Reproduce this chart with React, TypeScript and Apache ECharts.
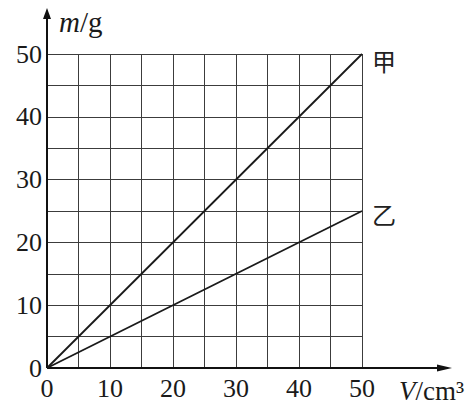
import React, { useEffect, useRef } from "react";
import * as echarts from "echarts";

const volumes = [0, 50];
const massJia = [0, 50];
const massYi = [0, 25];
const seriesNames = ["甲", "乙"];
const axisMin = 0;
const axisMax = 50;
const gridStep = 5;
const labelStep = 10;

const SERIF = "Liberation Serif, Times New Roman, serif";
const CJK = "Noto Sans CJK SC, sans-serif";

export default function App() {
  const ref = useRef<HTMLDivElement>(null);

  useEffect(() => {
    if (!ref.current) return;
    const chart = echarts.init(ref.current, null, { renderer: "svg" });
    const fmt = (v: number) => (v % labelStep === 0 ? String(v) : "");
    const splitLine = { show: true, lineStyle: { color: "#3c3c3c", width: 1 } };
    const endLabel = (name: string, dy: number) => ({
      show: true,
      formatter: () => name,
      distance: 10,
      offset: [0, dy],
      fontFamily: CJK,
      fontSize: 24,
      color: "#222",
    });
    chart.setOption({
      animation: false,
      backgroundColor: "#fff",
      grid: { left: 47, top: 54, width: 315, height: 314 },
      xAxis: {
        type: "value",
        min: axisMin,
        max: axisMax,
        interval: gridStep,
        axisLine: { show: false },
        axisTick: { show: false },
        splitLine,
        axisLabel: { formatter: fmt, fontFamily: SERIF, fontSize: 26, color: "#1a1a1a", margin: 7 },
      },
      yAxis: {
        type: "value",
        min: axisMin,
        max: axisMax,
        interval: gridStep,
        axisLine: { show: false },
        axisTick: { show: false },
        splitLine,
        axisLabel: { formatter: fmt, fontFamily: SERIF, fontSize: 26, color: "#1a1a1a", margin: 5, padding: [6, 0, 0, 0] },
      },
      series: [
        {
          type: "line",
          name: seriesNames[0],
          data: volumes.map((v, i) => [v, massJia[i]]),
          symbol: "none",
          lineStyle: { color: "#1a1a1a", width: 1.8 },
          endLabel: endLabel(seriesNames[0], 6),
        },
        {
          type: "line",
          name: seriesNames[1],
          data: volumes.map((v, i) => [v, massYi[i]]),
          symbol: "none",
          lineStyle: { color: "#1a1a1a", width: 1.8 },
          endLabel: endLabel(seriesNames[1], 2),
        },
      ],
    });

    const o = chart.convertToPixel({ gridIndex: 0 }, [axisMin, axisMin]) as number[];
    const xEnd = 452;
    const yEnd = 8;
    chart.setOption({
      graphic: [
        { type: "line", shape: { x1: o[0], y1: o[1], x2: xEnd - 8, y2: o[1] }, style: { stroke: "#111", lineWidth: 2 } },
        { type: "line", shape: { x1: o[0], y1: o[1], x2: o[0], y2: yEnd + 8 }, style: { stroke: "#111", lineWidth: 2 } },
        { type: "polygon", shape: { points: [[xEnd, o[1]], [xEnd - 15, o[1] - 3.5], [xEnd - 15, o[1] + 3.5]] }, style: { fill: "#111" } },
        { type: "polygon", shape: { points: [[o[0], yEnd], [o[0] - 4, yEnd + 11], [o[0] + 4, yEnd + 11]] }, style: { fill: "#111" } },
        {
          type: "text",
          x: 59,
          y: 22,
          style: {
            text: "{i|m}/g",
            rich: { i: { fontStyle: "italic", fontFamily: SERIF, fontSize: 29, fill: "#1a1a1a" } },
            fontFamily: SERIF,
            fontSize: 29,
            fill: "#1a1a1a",
            verticalAlign: "middle",
          },
        },
        {
          type: "text",
          x: 399,
          y: 391,
          style: {
            text: "{i|V}/cm³",
            rich: { i: { fontStyle: "italic", fontFamily: SERIF, fontSize: 27, fill: "#1a1a1a" } },
            fontFamily: SERIF,
            fontSize: 27,
            fill: "#1a1a1a",
            verticalAlign: "middle",
          },
        },
      ],
    });

    return () => chart.dispose();
  }, []);

  return (
    <div
      ref={ref}
      style={{ position: "fixed", left: 0, top: 0, width: 472, height: 406, background: "#fff" }}
    />
  );
}
